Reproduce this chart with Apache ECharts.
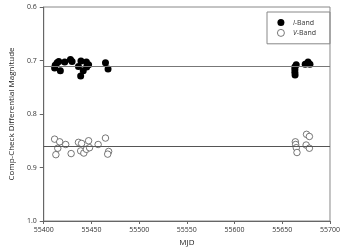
<!DOCTYPE html>
<html><head><meta charset="utf-8">
<script src="https://cdn.jsdelivr.net/npm/echarts@6/dist/echarts.min.js"></script>
<style>html,body{margin:0;padding:0;background:#fff}#c{width:343px;height:252px}</style>
</head><body><div id="c"></div>
<script>
// I-Band (filled) points: [MJD, magnitude]
const iBandMJD = [55411.4, 55412, 55414, 55415.7, 55417.4, 55422, 55428, 55429.7, 55436.4, 55439, 55441.4, 55438.7, 55444.7, 55447, 55445, 55464.7, 55467.4,
                  55663.2, 55663.2, 55663.2, 55663.4, 55664.6, 55674, 55677, 55679];
const iBandMag = [0.714, 0.709, 0.704, 0.702, 0.719, 0.703, 0.698, 0.702, 0.711, 0.701, 0.719, 0.729, 0.703, 0.708, 0.712, 0.704, 0.716,
                  0.712, 0.717, 0.722, 0.727, 0.708, 0.707, 0.703, 0.707];
// V-Band (open) points
const vBandMJD = [55411.4, 55414.7, 55412.7, 55416.7, 55423, 55428.7, 55436.4, 55439.7, 55438.7, 55442, 55444.7, 55447, 55448, 55457, 55464.7, 55468, 55467,
                  55663.7, 55664, 55664.7, 55665.4, 55675.4, 55678.4, 55675, 55678.4];
const vBandMag = [0.847, 0.864, 0.876, 0.852, 0.857, 0.874, 0.853, 0.855, 0.869, 0.873, 0.866, 0.850, 0.863, 0.857, 0.845, 0.870, 0.875,
                  0.852, 0.857, 0.863, 0.872, 0.838, 0.842, 0.858, 0.864];
// Mean reference lines
const iBandMean = 0.708;
const vBandMean = 0.858;
// Axes
const xTicks = [55400, 55450, 55500, 55550, 55600, 55650, 55700];
const yTicks = [0.6, 0.7, 0.8, 0.9, 1.0];

const zip = (a, b) => a.map((v, i) => [v, b[i]]);
const FONT = 'Open Sans';
const chart = echarts.init(document.getElementById('c'), null, {renderer: 'canvas'});
chart.setOption({
  animation: false,
  backgroundColor: '#fff',
  grid: {left: 35, right: 8, top: 7, bottom: 29, show: true, borderColor: '#888', borderWidth: 1},
  legend: {
    orient: 'vertical', right: 13, top: 12,
    padding: [7, 14, 7, 10], itemGap: 3,
    itemWidth: 14, itemHeight: 7,
    borderColor: '#888', borderWidth: 1,
    selectedMode: false,
    textStyle: {fontFamily: FONT, fontSize: 7, color: '#333',
      rich: {it: {fontStyle: 'italic', fontFamily: FONT, fontSize: 7, color: '#333'}}},
    formatter: name => '{it|' + name.charAt(0) + '}' + name.slice(1),
    data: [
      {name: 'I-Band', icon: 'circle', itemStyle: {color: '#000', opacity: 1}},
      {name: 'V-Band', icon: 'circle', itemStyle: {color: '#fff', borderColor: '#555', borderWidth: 0.8, opacity: 1}}
    ]
  },
  xAxis: {
    type: 'value', min: xTicks[0], max: xTicks[xTicks.length - 1], interval: 50,
    name: 'MJD', nameLocation: 'middle', nameGap: 18,
    nameTextStyle: {fontFamily: FONT, fontSize: 8, color: '#222'},
    axisLine: {lineStyle: {color: '#666', width: 1}},
    axisTick: {show: true, length: 3, lineStyle: {color: '#666'}},
    axisLabel: {fontFamily: FONT, fontSize: 7, color: '#333', margin: 5, formatter: v => String(v)},
    splitLine: {show: false}
  },
  yAxis: {
    type: 'value', inverse: true, min: yTicks[0], max: yTicks[yTicks.length - 1], interval: 0.1,
    name: 'Comp-Check Differential Magnitude', nameLocation: 'middle', nameGap: 22,
    nameTextStyle: {fontFamily: FONT, fontSize: 8, color: '#222'},
    axisLine: {show: true, lineStyle: {color: '#666', width: 1}},
    axisTick: {show: true, length: 4, lineStyle: {color: '#666'}},
    axisLabel: {fontFamily: FONT, fontSize: 7, color: '#333', margin: 7, formatter: v => v.toFixed(1)},
    splitLine: {show: false}
  },
  series: [
    {
      name: 'I-Band', type: 'scatter', symbol: 'circle', symbolSize: 7,
      itemStyle: {color: '#000', opacity: 1},
      data: zip(iBandMJD, iBandMag),
      markLine: {silent: true, symbol: 'none', label: {show: false},
        lineStyle: {color: '#777', width: 1, type: 'solid'},
        data: [{yAxis: iBandMean}]}
    },
    {
      name: 'V-Band', type: 'scatter', symbol: 'circle', symbolSize: 6.5,
      itemStyle: {color: '#fff', borderColor: '#555', borderWidth: 0.8, opacity: 1},
      data: zip(vBandMJD, vBandMag),
      markLine: {silent: true, symbol: 'none', label: {show: false},
        lineStyle: {color: '#555', width: 1, type: 'solid'},
        data: [{yAxis: vBandMean}]},
      z: 1
    }
  ]
});
</script>
</body></html>
